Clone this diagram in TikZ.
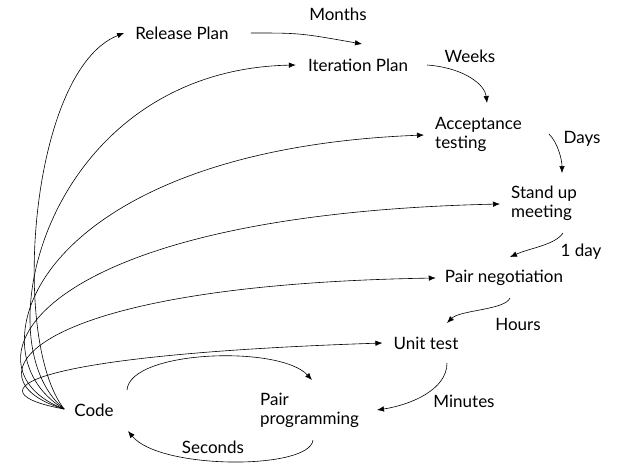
\documentclass[tikz,border=0pt]{standalone}
\usepackage{fontspec}
\setmainfont{Lato}
\usetikzlibrary{arrows.meta}
\begin{document}
\begin{tikzpicture}[x=1pt,y=-1pt,
  lbl/.style={font=\fontsize{17}{19}\selectfont, inner sep=0pt, text=black},
  ml/.style={lbl, align=left},
  arr/.style={line width=0.6pt, -{Latex[length=7pt,width=5.5pt]}}]
\useasboundingbox (0,0) rectangle (619,474);
\node[lbl] (rel) at (182,33) {Release Plan};
\node[lbl] (months) at (338,14) {Months};
\node[lbl] (it) at (358,65) {Iteration Plan};
\node[lbl] (weeks) at (470,56) {Weeks};
\node[ml, anchor=west] (acc) at (435,134) {Acceptance\\testing};
\node[lbl] (days) at (582,139) {Days};
\node[ml, anchor=west] (su) at (511,203) {Stand up\\meeting};
\node[lbl] (oneday) at (581,252) {1 day};
\node[lbl] (pn) at (504,278) {Pair negotiation};
\node[lbl] (hours) at (518,324) {Hours};
\node[lbl] (ut) at (426,343) {Unit test};
\node[lbl] (minutes) at (464,401) {Minutes};
\node[ml, anchor=west] (pp) at (260,410) {Pair\\programming};
\node[lbl] (seconds) at (213,447) {Seconds};
\node[lbl] (code) at (94,410) {Code};

\coordinate (c0) at ([xshift=-10pt,yshift=1pt]code.west);
% fan from Code
\draw[arr] (c0) .. controls (10,340) and (30,70) .. ([xshift=-11pt]rel.west);
\draw[arr] (c0) .. controls (-20,340) and (50,70) .. ([xshift=-12pt]it.west);
\draw[arr] (c0) .. controls (-35,350) and (40,150) .. ([xshift=-11pt,yshift=-1pt]acc.west);
\draw[arr] (c0) .. controls (-40,370) and (20,215) .. ([xshift=-11pt,yshift=-1pt]su.west);
\draw[arr] (c0) .. controls (-35,380) and (20,285) .. ([xshift=-9pt]pn.west);
\draw[arr] (c0) .. controls (-30,392) and (20,355) .. ([xshift=-11pt]ut.west);
% chain
\draw[arr] ([xshift=22pt]rel.east) .. controls (300,33) .. (362,44);
\draw[arr] ([xshift=19pt]it.east) .. controls (465,68) and (485,85) .. (487,103);
\draw[arr] (549,134) .. controls (558,143) and (562,160) .. (562,173);
\draw[arr] (563,233) .. controls (555,245) and (530,248) .. (510,257);
\draw[arr] (510,298) .. controls (505,310) and (460,310) .. (447,323);
\draw[arr] (447,363) .. controls (447,390) and (410,405) .. (377,410);
\draw[arr] (127,390) .. controls (130,350) and (280,345) .. (312,380);
\draw[arr] (313,440) .. controls (310,470) and (160,470) .. (128,431);
\end{tikzpicture}
\end{document}
